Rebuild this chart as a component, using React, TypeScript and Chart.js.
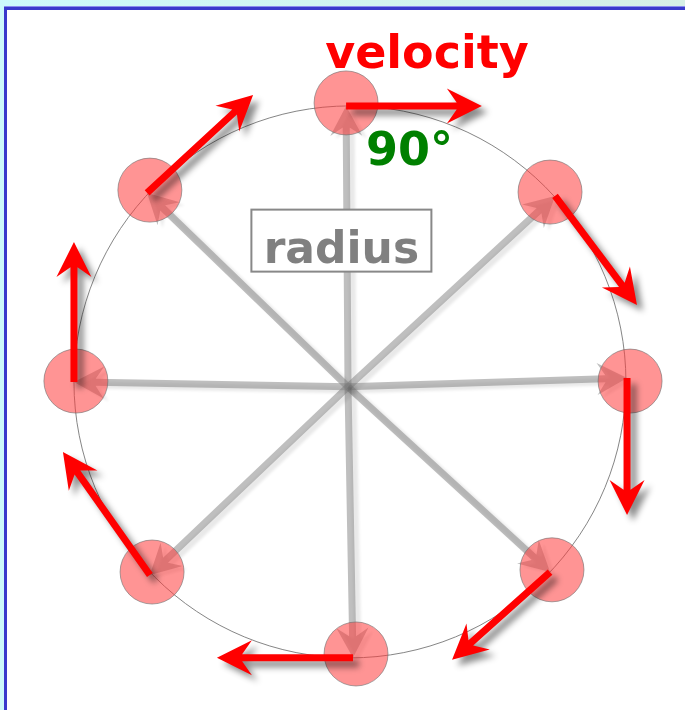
import React, { useEffect, useRef } from "react";
import { Chart, registerables } from "chart.js";

Chart.register(...registerables);

// ---- data (units: radius of the ring = 1, centre near hub) ----
const axisX = [-1.279, 1.203];
const axisY = [-1.196, 1.377];

// ball centres
const ballX = [-0.025, 0.714, 1.004, 0.721, 0.011, -0.728, -1.004, -0.736];
const ballY = [1.004, 0.681, -0.004, -0.688, -0.993, -0.696, -0.004, 0.688];

// radius spoke ends / velocity arrow starts
const startX = [-0.025, 0.732, 0.993, 0.714, 0.0, -0.736, -1.011, -0.746];
const startY = [0.993, 0.667, 0.007, -0.696, -1.007, -0.707, -0.007, 0.678];

// velocity arrow tips
const tipX = [0.467, 1.029, 0.993, 0.359, -0.493, -1.051, -1.011, -0.362];
const tipY = [0.993, 0.272, -0.489, -1.014, -1.007, -0.261, 0.5, 1.033];

const hub = [-0.018, -0.025];
const ring = [-0.011, -0.007, 1.0];

const velocityLabel = "velocity";
const velocityPos = [0.268, 1.13];
const angleLabel = "90°";
const anglePos = [0.047, 0.779];
const radiusLabel = "radius";
const radiusPos = [-0.042, 0.505];

function drawArrow(
  ctx: CanvasRenderingContext2D,
  x0: number,
  y0: number,
  x1: number,
  y1: number,
  color: string,
  width: number,
  headLen: number,
  headW: number
) {
  const dx = x1 - x0;
  const dy = y1 - y0;
  const len = Math.hypot(dx, dy);
  const ux = dx / len;
  const uy = dy / len;
  const px = -uy;
  const py = ux;
  const bx = x1 - ux * headLen;
  const by = y1 - uy * headLen;
  const nx = x1 - ux * headLen * 0.72;
  const ny = y1 - uy * headLen * 0.72;
  ctx.beginPath();
  ctx.moveTo(x0 + px * width / 2, y0 + py * width / 2);
  ctx.lineTo(nx + px * width / 2, ny + py * width / 2);
  ctx.lineTo(bx + px * headW / 2, by + py * headW / 2);
  ctx.lineTo(x1, y1);
  ctx.lineTo(bx - px * headW / 2, by - py * headW / 2);
  ctx.lineTo(nx - px * width / 2, ny - py * width / 2);
  ctx.lineTo(x0 - px * width / 2, y0 - py * width / 2);
  ctx.closePath();
  ctx.fillStyle = color;
  ctx.fill();
}

const diagramPlugin = {
  id: "diagram",
  beforeDatasetsDraw(chart: any) {
    const ctx: CanvasRenderingContext2D = chart.ctx;
    const xs = chart.scales.x;
    const ys = chart.scales.y;
    const unit = xs.getPixelForValue(1) - xs.getPixelForValue(0);
    // ring
    ctx.save();
    ctx.beginPath();
    ctx.arc(xs.getPixelForValue(ring[0]), ys.getPixelForValue(ring[1]), ring[2] * unit, 0, Math.PI * 2);
    ctx.strokeStyle = "rgba(120,120,120,0.9)";
    ctx.lineWidth = 1;
    ctx.stroke();
    ctx.restore();
    // spokes
    const hx = xs.getPixelForValue(hub[0]);
    const hy = ys.getPixelForValue(hub[1]);
    for (let i = 0; i < startX.length; i++) {
      ctx.save();
      ctx.shadowColor = "rgba(0,0,0,0.18)";
      ctx.shadowBlur = 3;
      ctx.shadowOffsetX = 5;
      ctx.shadowOffsetY = 3;
      drawArrow(
        ctx,
        hx,
        hy,
        xs.getPixelForValue(startX[i]),
        ys.getPixelForValue(startY[i]),
        "rgba(128,128,128,0.5)",
        7,
        30,
        32
      );
      ctx.restore();
    }
  },
  afterDatasetsDraw(chart: any) {
    const ctx: CanvasRenderingContext2D = chart.ctx;
    const xs = chart.scales.x;
    const ys = chart.scales.y;
    for (let i = 0; i < startX.length; i++) {
      ctx.save();
      ctx.shadowColor = "rgba(0,0,0,0.45)";
      ctx.shadowBlur = 6;
      ctx.shadowOffsetX = 6;
      ctx.shadowOffsetY = 6;
      drawArrow(
        ctx,
        xs.getPixelForValue(startX[i]),
        ys.getPixelForValue(startY[i]),
        xs.getPixelForValue(tipX[i]),
        ys.getPixelForValue(tipY[i]),
        "#ff0000",
        7,
        35,
        35
      );
      ctx.restore();
    }
    // labels
    ctx.save();
    ctx.font = "bold 46px 'DejaVu Sans'";
    ctx.fillStyle = "#ff0000";
    ctx.textAlign = "center";
    ctx.textBaseline = "alphabetic";
    ctx.fillText(velocityLabel, xs.getPixelForValue(velocityPos[0]), ys.getPixelForValue(velocityPos[1]));

    ctx.font = "bold 46px 'DejaVu Sans'";
    ctx.fillStyle = "#008000";
    ctx.textAlign = "left";
    ctx.fillText(angleLabel, xs.getPixelForValue(anglePos[0]), ys.getPixelForValue(anglePos[1]));

    const rx = xs.getPixelForValue(radiusPos[0]);
    const ry = ys.getPixelForValue(radiusPos[1]);
    const bw = 180;
    const bh = 62;
    ctx.fillStyle = "#ffffff";
    ctx.fillRect(rx - bw / 2, ry - bh / 2, bw, bh);
    ctx.strokeStyle = "#888888";
    ctx.lineWidth = 2;
    ctx.strokeRect(rx - bw / 2, ry - bh / 2, bw, bh);
    ctx.font = "bold 44px 'DejaVu Sans'";
    ctx.fillStyle = "#808080";
    ctx.textAlign = "center";
    ctx.fillText(radiusLabel, rx, ry + 22);
    ctx.restore();
  },
};

export default function App() {
  const ref = useRef<HTMLCanvasElement>(null);
  useEffect(() => {
    if (!ref.current) return;
    const chart = new Chart(ref.current, {
      type: "scatter",
      data: {
        datasets: [
          {
            data: ballX.map((x, i) => ({ x, y: ballY[i] })),
            pointRadius: 32,
            pointHoverRadius: 32,
            backgroundColor: "rgba(255,60,60,0.55)",
            borderColor: "rgba(110,110,110,0.6)",
            borderWidth: 1,
            clip: false,
          },
        ],
      },
      options: {
        animation: false,
        responsive: false,
        maintainAspectRatio: false,
        events: [],
        layout: { padding: 0, autoPadding: false },
        plugins: { legend: { display: false }, tooltip: { enabled: false } },
        scales: {
          x: { type: "linear", min: axisX[0], max: axisX[1], display: false },
          y: { type: "linear", min: axisY[0], max: axisY[1], display: false },
        },
      },
      plugins: [diagramPlugin],
    });
    return () => chart.destroy();
  }, []);
  return (
    <div
      style={{
        position: "fixed",
        left: 0,
        top: 0,
        width: 685,
        height: 710,
        overflow: "hidden",
        background: "linear-gradient(to right, #cdfafb, #d6efe6)",
      }}
    >
      <div
        style={{
          position: "absolute",
          left: 4,
          top: 7,
          right: 0,
          bottom: 0,
          background: "#ffffff",
          borderLeft: "3px solid #3a3acc",
          borderTop: "3px solid #3a3acc",
          boxShadow: "0 -1px 0 #8c8cee",
        }}
      />
      <canvas
        ref={ref}
        width={685}
        height={710}
        style={{ position: "absolute", left: 0, top: 0, width: 685, height: 710 }}
      />
    </div>
  );
}
